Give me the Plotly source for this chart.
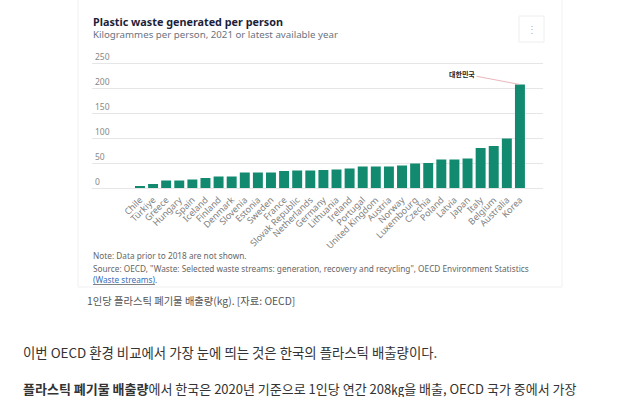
import plotly.graph_objects as go

countries = ["Chile", "Türkiye", "Greece", "Hungary", "Spain", "Iceland", "Finland", "Denmark",
             "Slovenia", "Estonia", "Sweden", "France", "Slovak Republic", "Netherlands", "Germany",
             "Lithuania", "Ireland", "Portugal", "United Kingdom", "Austria", "Norway", "Luxembourg",
             "Czechia", "Poland", "Latvia", "Japan", "Italy", "Belgium", "Australia", "Korea"]
values = [3, 8, 15, 15, 17, 20, 23, 23, 31, 31, 31, 34, 35, 35, 36, 37, 39, 43, 43, 43, 45, 49,
          50, 57, 57, 59, 80, 84, 99, 207]
y_ticks = [0, 50, 100, 150, 200, 250]

W, H = 640, 397
def px(x):
    return x / W
def py(y):
    return 1 - y / H

BAR = "#128a6f"
FONT = "Noto Sans"

fig = go.Figure()
fig.add_trace(go.Bar(x=countries, y=values, marker=dict(color=BAR, line=dict(width=0)),
                     width=0.76, hoverinfo="x+y"))

fig.update_layout(
    width=W, height=H, margin=dict(l=0, r=0, t=0, b=0),
    paper_bgcolor="white", plot_bgcolor="white", showlegend=False,
    font=dict(family=FONT, color="#777"),
    xaxis=dict(domain=[px(92), px(543)], range=[-3.66, 30.76], type="category",
               tickangle=-45, tickfont=dict(size=9, color="#808080", family=FONT),
               ticklabelstandoff=4,
               showgrid=False, showline=False, ticks=""),
    yaxis=dict(domain=[py(188), py(43)], range=[0, 290], tickvals=y_ticks,
               ticklabelposition="inside top", tickfont=dict(size=8.5, color="#888", family=FONT),
               showgrid=True, gridcolor="#e6e6e6", gridwidth=1, zeroline=True,
               zerolinecolor="#e6e6e6", zerolinewidth=1, showline=False, ticks=""),
)

shapes = [
    dict(type="rect", xref="paper", yref="paper", x0=px(78), x1=px(562), y0=py(287), y1=py(-5),
         line=dict(color="#f0f0f0", width=1), fillcolor="rgba(0,0,0,0)", layer="below"),
    dict(type="rect", xref="paper", yref="paper", x0=px(519), x1=px(544), y0=py(42), y1=py(16),
         line=dict(color="#eeeeee", width=1), fillcolor="white"),
]
fig.update_layout(shapes=shapes)

ann = []
def txt(x, y, s, size, color, family=FONT, xanchor="left"):
    ann.append(dict(x=px(x), y=py(y), xref="paper", yref="paper", text=s, showarrow=False,
                    xanchor=xanchor, yanchor="middle", align="left",
                    font=dict(size=size, color=color, family=family)))

txt(91, 22, "<b>Plastic waste generated per person</b>", 10.8, "#1d1f3a")
txt(91, 34, "Kilogrammes per person, 2021 or latest available year", 9.7, "#6b7280")
txt(531.5, 29, "⋮", 10, "#b0b0b0", xanchor="center")
txt(91, 255, "Note: Data prior to 2018 are not shown.", 8.25, "#666")
txt(91, 268, "Source: OECD, \"Waste: Selected waste streams: generation, recovery and recycling\", "
             "OECD Environment Statistics", 8.25, "#666")
txt(91, 279, "<u><span style='color:#3a6db5'>(Waste streams)</span></u>.", 8.25, "#666")
txt(85, 300, "1인당 플라스틱 폐기물 배출량(kg). [자료: OECD]", 10.3, "#555", "Noto Sans CJK KR")
txt(21, 352, "이번 OECD 환경 비교에서 가장 눈에 띄는 것은 한국의 플라스틱 배출량이다.", 13.4, "#333",
    "Noto Sans CJK KR")
txt(21, 388, "<b>플라스틱 폐기물 배출량</b>에서 한국은 2020년 기준으로 1인당 연간 208㎏을 배출, OECD 국가 중에서 가장",
    13, "#333", "Noto Sans CJK KR")

ann.append(dict(x="Korea", y=207, xref="x", yref="y", text="<b>대한민국</b>", showarrow=True,
                arrowhead=0, arrowwidth=0.8, arrowcolor="#e2a3ab", ax=-58, ay=-11, standoff=0,
                font=dict(size=7, color="#222", family="Noto Sans CJK KR")))
fig.update_layout(annotations=ann)

fig.write_html("out.html", config={"displayModeBar": False},
               post_script="document.body.style.margin='0px';")
